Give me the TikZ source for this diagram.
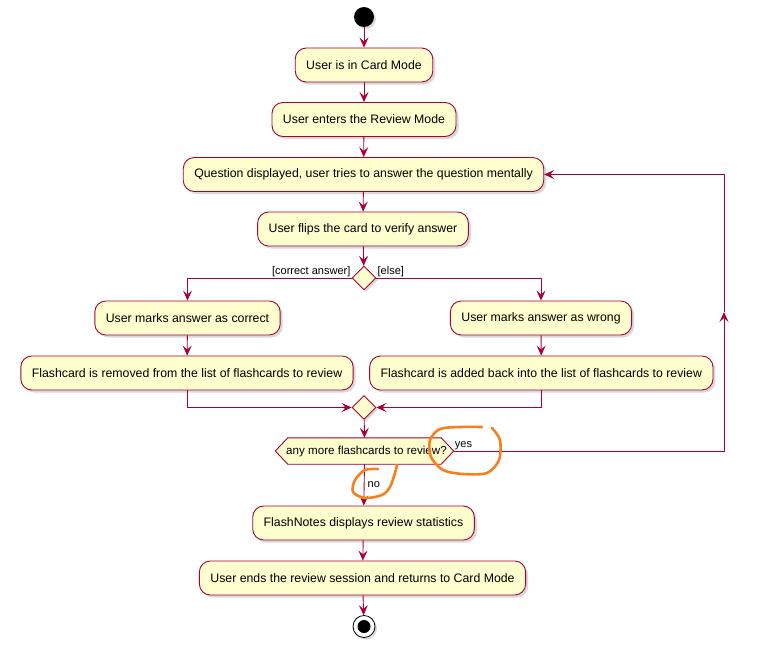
\documentclass[tikz,border=0pt]{standalone}
\usepackage{fontspec}
\setmainfont{Liberation Sans}
\usetikzlibrary{arrows.meta, calc, shapes.geometric, shadows, backgrounds}

\definecolor{umlred}{HTML}{A80036}
\definecolor{umlfill}{HTML}{FEFECE}
\definecolor{pen}{RGB}{246,128,32}

\begin{document}
\begin{tikzpicture}[x=1pt, y=-1pt,
  act/.style={draw=umlred, fill=umlfill, line width=0.9pt, rounded corners=11pt,
    minimum height=34pt, inner xsep=11pt, font=\fontsize{12.3}{14}\selectfont,
    drop shadow={shadow xshift=2.5pt, shadow yshift=-2.5pt, opacity=0.3}},
  choice/.style={diamond, aspect=1, draw=umlred, fill=umlfill, line width=0.9pt,
    minimum width=24pt, minimum height=24pt, inner sep=0pt,
    drop shadow={shadow xshift=2pt, shadow yshift=-2pt, opacity=0.3}},
  askbox/.style={rectangle, minimum width=178pt, minimum height=26pt, inner sep=0pt,
    font=\fontsize{11.6}{13}\selectfont},
  startdot/.style={circle, fill=black, minimum size=20pt, inner sep=0pt,
    drop shadow={shadow xshift=2pt, shadow yshift=-2pt, opacity=0.3}},
  enddot/.style={circle, draw=black, fill=white, line width=0.8pt, minimum size=22pt, inner sep=0pt,
    path picture={\fill[black] (path picture bounding box.center) circle (6.5pt);},
    drop shadow={shadow xshift=2pt, shadow yshift=-2pt, opacity=0.3}},
  lbl/.style={font=\fontsize{11}{13}\selectfont, inner sep=1pt},
  flow/.style={draw=umlred, line width=0.9pt, -{Stealth[length=10pt, width=9pt, inset=4pt]}},
  wire/.style={draw=umlred, line width=0.9pt},
  scribble/.style={draw=pen, line width=2.6pt, line cap=round, line join=round}
]

\useasboundingbox (0,0) rectangle (761,656);

% Inicio
\node[startdot] (start) at (364,17) {};

% Actividades
\node[act] (card)  at (364,65)    {User is in Card Mode};
\node[act] (enter) at (364,119.5) {User enters the Review Mode};
\node[act] (quest) at (363.5,174.5) {Question displayed, user tries to answer the question mentally};
\node[act] (flip)  at (363,229)   {User flips the card to verify answer};

% Decision
\node[choice] (check) at (364,278) {};
\node[lbl, anchor=south east] at (check.west) {[correct answer]};
\node[lbl, anchor=south west] at (check.east) {[else]};

\node[act] (good)    at (187.5,318) {User marks answer as correct};
\node[act] (removed) at (187,373)   {Flashcard is removed from the list of flashcards to review};
\node[act] (bad)     at (541,318)   {User marks answer as wrong};
\node[act] (added)   at (541.3,373) {Flashcard is added back into the list of flashcards to review};

% Union
\node[choice] (merge) at (364,407.5) {};

% Pregunta
\node[askbox] (more) at (364.5,451) {\hspace*{4pt}any more flashcards to review?};
\begin{scope}[on background layer]
\fill[black, opacity=0.3, shift={(2,2)}]
  (more.west) -- ([xshift=12.5pt]more.north west) -- ([xshift=-12.5pt]more.north east)
  -- (more.east) -- ([xshift=-12.5pt]more.south east) -- ([xshift=12.5pt]more.south west) -- cycle;
\draw[wire, fill=umlfill]
  (more.west) -- ([xshift=12.5pt]more.north west) -- ([xshift=-12.5pt]more.north east)
  -- (more.east) -- ([xshift=-12.5pt]more.south east) -- ([xshift=12.5pt]more.south west) -- cycle;
\end{scope}
\node[lbl, anchor=south west] at (more.east) {yes};
\node[lbl, anchor=west] at ($(more.south)+(2,20)$) {no};

\node[act] (stats) at (363.5,523) {FlashNotes displays review statistics};
\node[act] (leave) at (362.5,578) {User ends the review session and returns to Card Mode};

% Fin
\node[enddot] (stop) at (364,626.5) {};

% Flechas
\draw[flow] (start) -- (card);
\draw[flow] (card) -- (enter);
\draw[flow] (enter) -- (quest);
\draw[flow] (quest) -- (flip);
\draw[flow] (flip) -- (check);
\draw[flow] (check.west) -| (good.north);
\draw[flow] (check.east) -| (bad.north);
\draw[flow] (good) -- (removed);
\draw[flow] (bad) -- (added);
\draw[flow] (removed.south) |- (merge.west);
\draw[flow] (added.south) |- (merge.east);
\draw[flow] (merge) -- (more.north);

% Vuelta
\coordinate (loopB) at (724,451);
\coordinate (loopM) at (724,312);
\coordinate (loopT) at (724,174.5);
\draw[flow] (more.east) -- (loopB) -- (loopM);
\draw[flow] (loopM) -- (loopT) -- (quest.east);

\draw[flow] (more.south) -- (stats);
\draw[flow] (stats) -- (leave);
\draw[flow] (leave) -- (stop);

% Marcas a mano
\draw[scribble] plot[smooth] coordinates {(482,427) (460,427) (440,429) (430,440) (431,457) (443,470) (463,474) (487,473) (499,460) (500,440) (492,428)};
\draw[scribble] plot[smooth] coordinates {(378,469) (365,470) (355,480) (353,492) (365,498) (382,495) (390,487) (395,473) (397,465)};

\end{tikzpicture}
\end{document}
